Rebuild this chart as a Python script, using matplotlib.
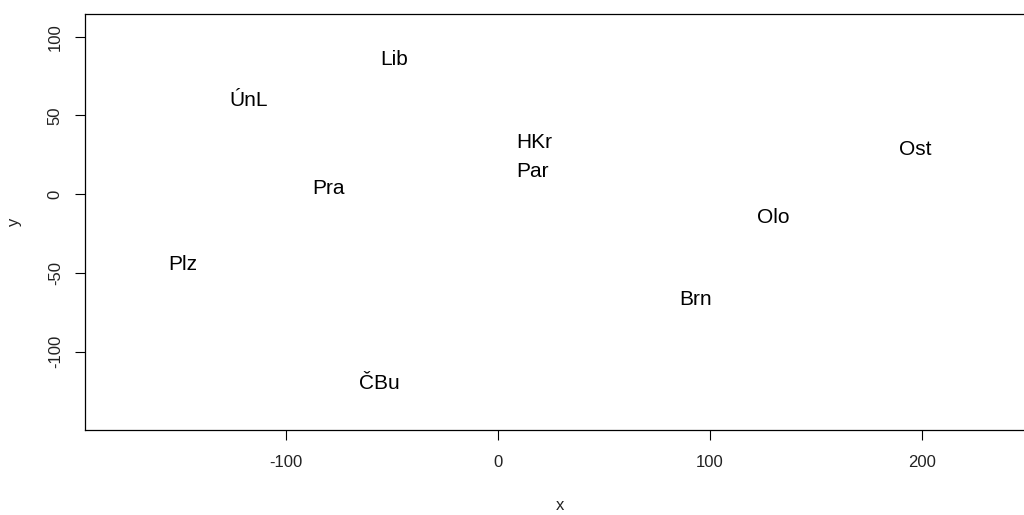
import matplotlib
matplotlib.use("Agg")
import matplotlib.pyplot as plt
from matplotlib.transforms import offset_copy

plt.rcParams['font.family'] = ['Liberation Sans', 'DejaVu Sans']

# City abbreviations and their 2-D coordinates
cities = ["Lib", "ÚnL", "HKr", "Par", "Ost", "Pra", "Olo", "Plz", "Brn", "ČBu"]
x_vals = [-48.8, -117.5, 17.1, 16.5, 197.0, -79.9, 129.9, -148.8, 93.0, -56.1]
y_vals = [85.9, 60.1, 33.0, 14.9, 28.8, 4.2, -14.3, -44.4, -66.4, -119.7]

x_ticks = [-100, 0, 100, 200]
y_ticks = [-100, -50, 0, 50, 100]

W, H = 1024, 515
fig = plt.figure(figsize=(W / 100, H / 100), dpi=100)
left, right, top, bottom = 85, 1035, 14, 430.3
ax = fig.add_axes([left / W, (H - bottom) / H, (right - left) / W, (bottom - top) / H])

ax.set_xlim(-194.8, 253.3)
ax.set_ylim(-149.9, 114.4)

label_size = 15
# text is placed on its baseline, shifted so the cap height is centred on the point
trans = offset_copy(ax.transData, fig=fig, x=0, y=-0.30 * label_size, units='points')
for name, xv, yv in zip(cities, x_vals, y_vals):
    ax.text(xv, yv, name, ha='center', va='baseline', fontsize=label_size,
            color='black', transform=trans)

ax.set_xticks(x_ticks)
ax.set_yticks(y_ticks)
ax.set_xticklabels([str(t) for t in x_ticks])
ax.set_yticklabels([str(t) for t in y_ticks], rotation=90, va='center')
ax.tick_params(axis='both', direction='out', length=7, width=0.8, colors='black',
               labelsize=12, labelcolor='#222222')
ax.tick_params(axis='x', pad=10.5)
ax.tick_params(axis='y', pad=9)

for s in ax.spines.values():
    s.set_linewidth(0.9)
    s.set_color('black')

fig.text(560 / W, 1 - 505 / H, "x", ha='center', va='center', fontsize=12, color='#222222')
fig.text(15 / W, 1 - 222 / H, "y", ha='center', va='center', fontsize=12,
         rotation=90, color='#222222')

fig.savefig("out.png", dpi=100, facecolor='white')
